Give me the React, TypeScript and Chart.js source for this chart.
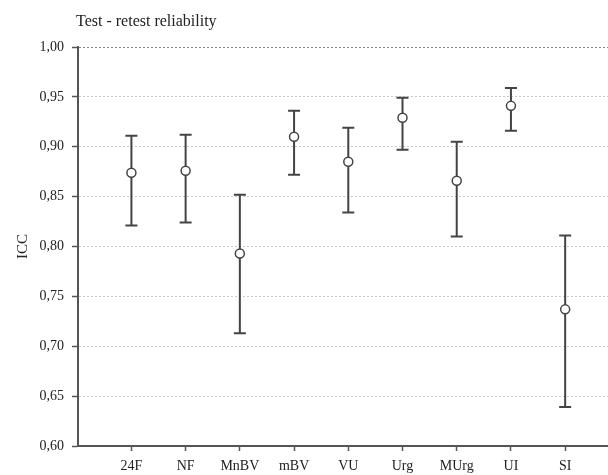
import React, { useEffect, useRef } from "react";
import { Chart, registerables } from "chart.js";

Chart.register(...registerables);

const categories = ["24F", "NF", "MnBV", "mBV", "VU", "Urg", "MUrg", "UI", "SI"];
const iccValues = [0.874, 0.876, 0.793, 0.910, 0.885, 0.929, 0.866, 0.941, 0.737];
const upperCI = [0.911, 0.912, 0.852, 0.936, 0.919, 0.949, 0.905, 0.959, 0.811];
const lowerCI = [0.821, 0.824, 0.713, 0.872, 0.834, 0.897, 0.810, 0.916, 0.639];
const yTicks = [0.6, 0.65, 0.7, 0.75, 0.8, 0.85, 0.9, 0.95, 1.0];

const FONT = "'Liberation Serif', 'Times New Roman', serif";

const errorBarPlugin = {
  id: "errorBars",
  beforeDatasetsDraw(chart: any) {
    const { ctx, scales } = chart;
    const xs = scales.x;
    const ys = scales.y;
    ctx.save();
    ctx.strokeStyle = "#444";
    ctx.lineWidth = 2;
    const cap = 6;
    categories.forEach((_, i) => {
      const x = xs.getPixelForValue(i);
      const yl = ys.getPixelForValue(lowerCI[i]);
      const yh = ys.getPixelForValue(upperCI[i]);
      ctx.beginPath();
      ctx.moveTo(x, yl);
      ctx.lineTo(x, yh);
      ctx.moveTo(x - cap, yl);
      ctx.lineTo(x + cap, yl);
      ctx.moveTo(x - cap, yh);
      ctx.lineTo(x + cap, yh);
      ctx.stroke();
    });
    ctx.restore();
  },
};

const titlePlugin = {
  id: "leftTitle",
  afterDraw(chart: any) {
    const { ctx, chartArea } = chart;
    ctx.save();
    ctx.font = `16px ${FONT}`;
    ctx.fillStyle = "#222";
    ctx.textAlign = "left";
    ctx.textBaseline = "alphabetic";
    ctx.fillText("Test - retest reliability", chartArea.left - 2, 26);
    ctx.restore();
  },
};

export default function App() {
  const ref = useRef<HTMLCanvasElement | null>(null);

  useEffect(() => {
    if (!ref.current) return;
    const chart = new Chart(ref.current, {
      type: "scatter",
      data: {
        datasets: [
          {
            label: "ICC",
            data: iccValues.map((v, i) => ({ x: i, y: v })),
            pointRadius: 4.5,
            pointBorderWidth: 1.5,
            pointBorderColor: "#444",
            pointBackgroundColor: "#fff",
            showLine: false,
          },
        ],
      },
      options: {
        animation: false,
        responsive: false,
        maintainAspectRatio: false,
        layout: { autoPadding: false, padding: { top: 47, right: 0, bottom: 0, left: 0 } },
        plugins: {
          legend: { display: false },
          tooltip: { enabled: false },
          title: { display: false },
        },
        scales: {
          x: {
            type: "linear",
            min: -0.985,
            max: 8.79,
            afterBuildTicks: (s: any) => {
              s.ticks = categories.map((_, i) => ({ value: i }));
            },
            afterFit: (s: any) => {
              s.height = 29;
            },
            ticks: {
              callback: (v: any) => categories[v as number] ?? "",
              font: { family: FONT, size: 14 },
              color: "#222",
              padding: 7,
              maxRotation: 0,
              autoSkip: false,
            },
            grid: {
              drawOnChartArea: false,
              drawTicks: true,
              tickLength: 5,
              tickColor: "#555",
              tickWidth: 1.5,
            },
            border: { display: true, color: "#555", width: 2 },
          },
          y: {
            type: "linear",
            min: 0.6,
            max: 1.0,
            afterBuildTicks: (s: any) => {
              s.ticks = yTicks.map((v) => ({ value: v }));
            },
            afterFit: (s: any) => {
              s.width = 78;
            },
            ticks: {
              callback: (v: any) => Number(v).toFixed(2).replace(".", ","),
              font: { family: FONT, size: 14 },
              color: "#222",
              padding: 8,
            },
            title: {
              display: true,
              text: "ICC",
              font: { family: FONT, size: 15 },
              color: "#222",
              padding: { top: 14, bottom: 0 },
            },
            grid: {
              drawOnChartArea: true,
              drawTicks: true,
              tickLength: 6,
              tickColor: "#555",
              tickWidth: 1.5,
              tickBorderDash: [],
              lineWidth: 1,
              color: (ctx: any) =>
                ctx.tick && Math.abs(ctx.tick.value - 1) < 1e-6 ? "#888" : "#c8c8c8",
            },
            border: { display: true, color: "#555", width: 2, dash: [2, 2] },
          },
        },
      },
      plugins: [errorBarPlugin, titlePlugin],
    });
    return () => chart.destroy();
  }, []);

  return (
    <div style={{ position: "fixed", left: 0, top: 0, width: 608, height: 475, background: "#fff" }}>
      <canvas ref={ref} width={608} height={475} style={{ width: 608, height: 475 }} />
    </div>
  );
}
